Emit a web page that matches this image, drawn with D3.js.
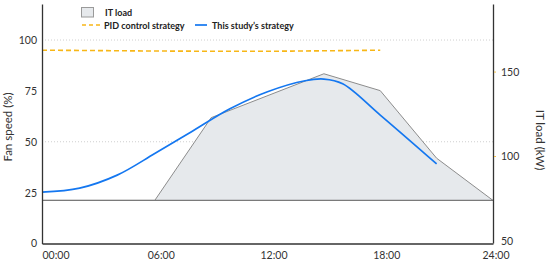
<!DOCTYPE html>
<html><head><meta charset="utf-8">
<script src="https://cdn.jsdelivr.net/npm/d3@7"></script>
<style>
html,body{margin:0;padding:0;background:#fff;}
svg{display:block;font-family:Lato,"Open Sans",sans-serif;}
</style></head>
<body><svg id="c" width="550" height="265"></svg>
<script>
// ---- data ----
const loadHours = [0, 6, 9, 15, 18, 21, 24];
const loadKW    = [74, 74, 123, 149, 139, 99, 74];
const pidHours  = [0, 3, 6, 9, 12, 15, 18];
const pidFan    = [95, 94.8, 94.6, 94.5, 94.5, 94.7, 95];
const studyHours = [0, 2, 4, 6, 8, 10, 12, 14, 15, 16, 18, 21];
const studyFan   = [25.2, 27.2, 33.6, 44.2, 55.2, 66.2, 74.6, 80, 80.8, 78.5, 63.1, 39.1];
const xTicks = [0, 6, 12, 18, 24];
const xTickLabels = ["00:00", "06:00", "12:00", "18:00", "24:00"];
const fanTicks = [0, 25, 50, 75, 100];
const kwTicks = [50, 100, 150];
const gridFan = [50, 100];
const legendLabels = ["IT load", "PID control strategy", "This study’s strategy"];

const svg = d3.select("#c");
const L = 42, R = 493, B = 243.5, T = 4;
const x = d3.scaleLinear().domain([0, 24]).range([L, R]);
const yL = d3.scaleLinear().domain([0, 117.7]).range([B, T]);
const yR = d3.scaleLinear().domain([48.8, 190.3]).range([243, T]);

// gridlines
svg.append("g").selectAll("line").data(gridFan).join("line")
  .attr("x1", L).attr("x2", R).attr("y1", d => yL(d)).attr("y2", d => yL(d))
  .attr("stroke", "#cfcfcf").attr("stroke-width", 1).attr("stroke-dasharray", "1,2");

// IT load area
const loadData = loadHours.map((h, i) => ({h, v: loadKW[i]}));
const base = d3.min(loadKW);
svg.append("path").datum(loadData)
  .attr("d", d3.area().x(d => x(d.h)).y0(yR(base)).y1(d => yR(d.v)))
  .attr("fill", "#e6e9ec");
svg.append("path").datum(loadData)
  .attr("d", d3.line().x(d => x(d.h)).y(d => yR(d.v)))
  .attr("fill", "none").attr("stroke", "#8c8c8c").attr("stroke-width", 1);
svg.append("line").attr("x1", L).attr("x2", R).attr("y1", yR(base)).attr("y2", yR(base))
  .attr("stroke", "#7a7a7a").attr("stroke-width", 1.2);

// PID line
const pidData = pidHours.map((h, i) => ({h, v: pidFan[i]}));
svg.append("path").datum(pidData)
  .attr("d", d3.line().curve(d3.curveMonotoneX).x(d => x(d.h)).y(d => yL(d.v)))
  .attr("fill", "none").attr("stroke", "#f7b718").attr("stroke-width", 1.6).attr("stroke-dasharray", "5,3");

// study line
const studyData = studyHours.map((h, i) => ({h, v: studyFan[i]}));
svg.append("path").datum(studyData)
  .attr("d", d3.line().curve(d3.curveCatmullRom).x(d => x(d.h)).y(d => yL(d.v)))
  .attr("fill", "none").attr("stroke", "#1477f0").attr("stroke-width", 1.7);

// axes
const axL = svg.append("g").attr("transform", `translate(${L},0)`)
  .call(d3.axisLeft(yL).tickValues(fanTicks).tickSize(0).tickPadding(5));
const axR = svg.append("g").attr("transform", `translate(${R},0)`)
  .call(d3.axisRight(yR).tickValues(kwTicks).tickSize(0).tickPadding(8));
const axB = svg.append("g").attr("transform", `translate(0,${B})`)
  .call(d3.axisBottom(x).tickValues(xTicks).tickSize(0).tickPadding(8)
    .tickFormat((d, i) => xTickLabels[i]));
[axL, axR, axB].forEach(a => {
  a.select(".domain").attr("stroke", "#333").attr("stroke-width", 1.3);
  a.selectAll("text").attr("font-size", 10.5).attr("fill", "#333").attr("font-family", "Lato, sans-serif");
});
axB.selectAll(".tick text").attr("dx", (d, i) => i === 0 || i === 4 ? 0 : 6)
  .attr("text-anchor", (d, i) => i === 0 ? "start" : i === 4 ? "end" : "middle")
  .attr("x", (d, i) => i === 4 ? 16 : 0);
// small orange ticks on right axis
svg.append("g").selectAll("line").data(kwTicks.slice(1)).join("line")
  .attr("x1", R + 1).attr("x2", R + 3).attr("y1", d => yR(d)).attr("y2", d => yR(d))
  .attr("stroke", "#f3c24a").attr("stroke-width", 1);

// axis titles
svg.append("text").attr("transform", `translate(12,127) rotate(-90)`)
  .attr("text-anchor", "middle").attr("font-size", 11.5).attr("fill", "#333").text("Fan speed (%)");
svg.append("text").attr("transform", `translate(536,140) rotate(90)`)
  .attr("text-anchor", "middle").attr("font-size", 11.5).attr("fill", "#333").text("IT load (kW)");

// legend
const lg = svg.append("g").attr("font-size", 9).attr("font-weight", "bold").attr("fill", "#222");
lg.append("rect").attr("x", 81.5).attr("y", 7.5).attr("width", 12).attr("height", 9.5)
  .attr("fill", "#e6e9ec").attr("stroke", "#9a9a9a").attr("stroke-width", 1);
lg.append("text").attr("x", 105).attr("y", 15.5).text(legendLabels[0]);
lg.append("line").attr("x1", 82).attr("x2", 100).attr("y1", 25).attr("y2", 25)
  .attr("stroke", "#f7b718").attr("stroke-width", 1.6).attr("stroke-dasharray", "4,3");
lg.append("text").attr("x", 104).attr("y", 28.5).text(legendLabels[1]);
lg.append("line").attr("x1", 195).attr("x2", 207).attr("y1", 25).attr("y2", 25)
  .attr("stroke", "#1477f0").attr("stroke-width", 1.7);
lg.append("text").attr("x", 212).attr("y", 28.5).text(legendLabels[2]);
</script></body></html>
